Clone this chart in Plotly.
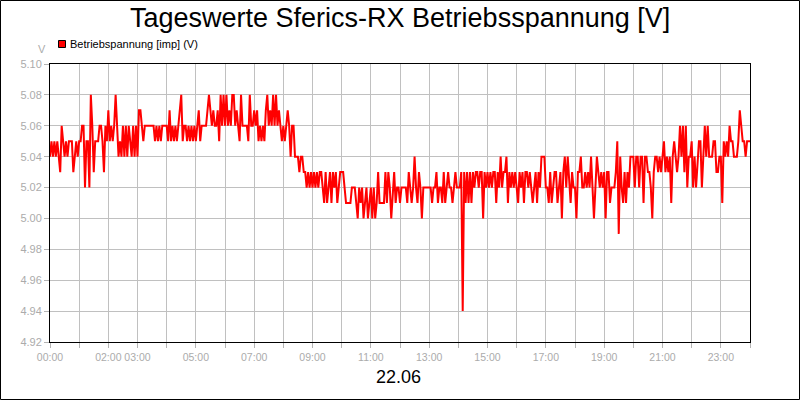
import plotly.graph_objects as go

# ---- data: voltage readings, 3-minute steps, one list per hour ----
h00 = [5.04,5.05,5.04,5.05,5.04,5.05,5.04,5.03,5.06,5.05,5.04,5.05,5.04,5.05,5.05,5.05,5.03,5.04,5.05,5.04]
h01 = [5.05,5.05,5.06,5.06,5.02,5.05,5.05,5.02,5.08,5.06,5.03,5.05,5.05,5.05,5.06,5.06,5.05,5.03,5.06,5.05]
h02 = [5.07,5.05,5.06,5.05,5.06,5.08,5.06,5.04,5.05,5.04,5.06,5.04,5.06,5.04,5.06,5.05,5.04,5.06,5.04,5.06]
h03 = [5.04,5.07,5.07,5.06,5.05,5.06,5.06,5.06,5.06,5.06,5.06,5.06,5.05,5.06,5.05,5.06,5.05,5.06,5.06,5.06]
h04 = [5.06,5.05,5.07,5.05,5.06,5.05,5.06,5.05,5.06,5.07,5.08,5.05,5.06,5.06,5.05,5.06,5.05,5.06,5.05,5.06]
h05 = [5.05,5.06,5.07,5.05,5.06,5.06,5.06,5.06,5.07,5.08,5.07,5.06,5.07,5.06,5.06,5.07,5.05,5.08,5.06,5.08]
h06 = [5.06,5.08,5.06,5.07,5.06,5.08,5.08,5.06,5.07,5.06,5.05,5.08,5.06,5.06,5.06,5.06,5.05,5.08,5.06,5.06]
h07 = [5.07,5.06,5.07,5.05,5.06,5.05,5.06,5.05,5.07,5.08,5.06,5.07,5.06,5.08,5.06,5.08,5.06,5.07,5.06,5.05]
h08 = [5.06,5.05,5.06,5.07,5.06,5.04,5.06,5.06,5.04,5.04,5.04,5.03,5.04,5.04,5.03,5.03,5.02,5.03,5.02,5.03]
h09 = [5.02,5.03,5.02,5.03,5.02,5.03,5.03,5.02,5.01,5.03,5.01,5.02,5.03,5.01,5.03,5.02,5.03,5.01,5.02,5.03]
h10 = [5.03,5.03,5.02,5.01,5.01,5.01,5.01,5.02,5.02,5.02,5.01,5.00,5.02,5.01,5.02,5.00,5.01,5.02,5.00,5.01]
h11 = [5.02,5.00,5.02,5.00,5.01,5.03,5.01,5.01,5.01,5.01,5.03,5.01,5.03,5.02,5.00,5.02,5.03,5.01,5.02,5.02]
h12 = [5.01,5.02,5.02,5.02,5.02,5.01,5.03,5.02,5.01,5.02,5.04,5.02,5.01,5.03,5.02,5.00,5.02,5.02,5.02,5.02]
h13 = [5.02,5.02,5.01,5.02,5.02,5.03,5.01,5.02,5.02,5.01,5.03,5.01,5.02,5.03,5.02,5.02,5.01,5.02,5.03,5.02]
h14 = [5.02,5.02,5.03,4.94,5.03,5.01,5.03,5.01,5.03,5.01,5.03,5.02,5.03,5.03,5.02,5.03,5.03,5.00,5.03,5.02]
h15 = [5.03,5.02,5.03,5.02,5.03,5.03,5.01,5.03,5.02,5.04,5.02,5.03,5.03,5.04,5.01,5.03,5.02,5.03,5.02,5.03]
h16 = [5.02,5.01,5.03,5.02,5.03,5.01,5.03,5.03,5.02,5.03,5.02,5.01,5.02,5.03,5.01,5.03,5.02,5.04,5.04,5.04]
h17 = [5.02,5.02,5.01,5.03,5.01,5.02,5.03,5.03,5.01,5.02,5.03,5.00,5.03,5.04,5.02,5.04,5.02,5.01,5.03,5.02]
h18 = [5.02,5.00,5.03,5.03,5.04,5.02,5.02,5.03,5.02,5.03,5.02,5.04,5.02,5.00,5.02,5.04,5.03,5.02,5.03,5.02]
h19 = [5.03,5.00,5.03,5.03,5.01,5.02,5.02,5.02,5.03,5.05,4.99,5.04,5.02,5.01,5.03,5.01,5.03,5.02,5.04,5.04]
h20 = [5.04,5.02,5.04,5.04,5.02,5.04,5.04,5.01,5.04,5.04,5.03,5.03,5.02,5.00,5.03,5.04,5.04,5.03,5.04,5.03]
h21 = [5.04,5.05,5.03,5.04,5.03,5.04,5.01,5.04,5.05,5.04,5.03,5.04,5.06,5.04,5.06,5.03,5.06,5.02,5.04,5.04]
h22 = [5.05,5.02,5.04,5.02,5.04,5.05,5.05,5.02,5.04,5.06,5.04,5.06,5.04,5.04,5.04,5.05,5.05,5.03,5.03,5.04]
h23 = [5.04,5.01,5.05,5.04,5.05,5.04,5.06,5.05,5.05,5.04,5.04,5.04,5.05,5.07,5.06,5.05,5.05,5.04,5.05,5.05]
end_value = [5.05]

tick_hours = list(range(0, 25))
tick_labels = ["00:00", "", "02:00", "03:00", "", "05:00", "", "07:00", "", "09:00", "",
               "11:00", "", "13:00", "", "15:00", "", "17:00", "", "19:00", "", "21:00", "",
               "23:00", ""]
y_ticks = [4.92, 4.94, 4.96, 4.98, 5.00, 5.02, 5.04, 5.06, 5.08, 5.10]

title_text = "Tageswerte Sferics-RX Betriebsspannung [V]"
legend_text = "Betriebspannung [imp] (V)"
date_text = "22.06"
unit_text = "V"

hours = [h00, h01, h02, h03, h04, h05, h06, h07, h08, h09, h10, h11,
         h12, h13, h14, h15, h16, h17, h18, h19, h20, h21, h22, h23]
values = [v for h in hours for v in h] + end_value
times = [i * 3 / 60 for i in range(len(values))]

FONT = "Liberation Sans, Arial, sans-serif"
GRAY = "#ABABAB"

fig = go.Figure()
fig.add_trace(go.Scatter(x=times, y=values, mode="lines",
                         line=dict(color="#FF0000", width=2),
                         showlegend=False, hoverinfo="skip"))

# plot area in pixels: x 50..750, y 64..342
L, R, T, B = 50, 750, 64, 342
W, H = R - L, B - T
def px(x): return (x - L) / W
def py(y): return (B - y) / H

fig.update_layout(
    width=800, height=400,
    margin=dict(l=L, r=800 - R, t=T, b=400 - B),
    paper_bgcolor="white", plot_bgcolor="white",
    font=dict(family=FONT, size=11, color=GRAY),
    xaxis=dict(range=[0, 24], tickmode="array", tickvals=tick_hours, ticktext=tick_labels,
               tickangle=0,
               showgrid=True, gridcolor="#C0C0C0", gridwidth=1,
               showline=True, linecolor="black", linewidth=1, mirror=True,
               ticks="outside", ticklen=5, tickcolor="#B4B4B4",
               tickfont=dict(family=FONT, size=10.5, color=GRAY), zeroline=False),
    yaxis=dict(range=[4.92, 5.10], tickmode="array", tickvals=y_ticks,
               ticktext=[f"{v:.2f}" for v in y_ticks],
               showgrid=True, gridcolor="#C0C0C0", gridwidth=1,
               showline=True, linecolor="black", linewidth=1, mirror=True,
               ticks="outside", ticklen=5, tickcolor="#B4B4B4",
               tickfont=dict(family=FONT, size=11, color=GRAY), zeroline=False),
    showlegend=False,
)

fig.add_annotation(text=title_text, xref="paper", yref="paper", x=px(400), y=py(18),
                   xanchor="center", yanchor="middle", showarrow=False,
                   font=dict(family=FONT, size=27, color="black"))
fig.add_annotation(text=date_text, xref="paper", yref="paper", x=px(398), y=py(377),
                   xanchor="center", yanchor="middle", showarrow=False,
                   font=dict(family=FONT, size=18, color="black"))
fig.add_annotation(text=unit_text, xref="paper", yref="paper", x=px(42), y=py(49),
                   xanchor="center", yanchor="middle", showarrow=False,
                   font=dict(family=FONT, size=11, color=GRAY))
fig.add_annotation(text=legend_text, xref="paper", yref="paper", x=px(68), y=py(44),
                   xanchor="left", yanchor="middle", showarrow=False,
                   font=dict(family=FONT, size=11, color="black"))
fig.add_shape(type="rect", xref="paper", yref="paper",
              x0=px(58.5), x1=px(65.5), y0=py(47.5), y1=py(40.5),
              fillcolor="#FF0000", line=dict(color="black", width=1))
fig.add_shape(type="rect", xref="paper", yref="paper",
              x0=px(0.5), x1=px(799.5), y0=py(399.5), y1=py(0.5),
              line=dict(color="black", width=1), layer="above")

fig.write_html("out.html")
